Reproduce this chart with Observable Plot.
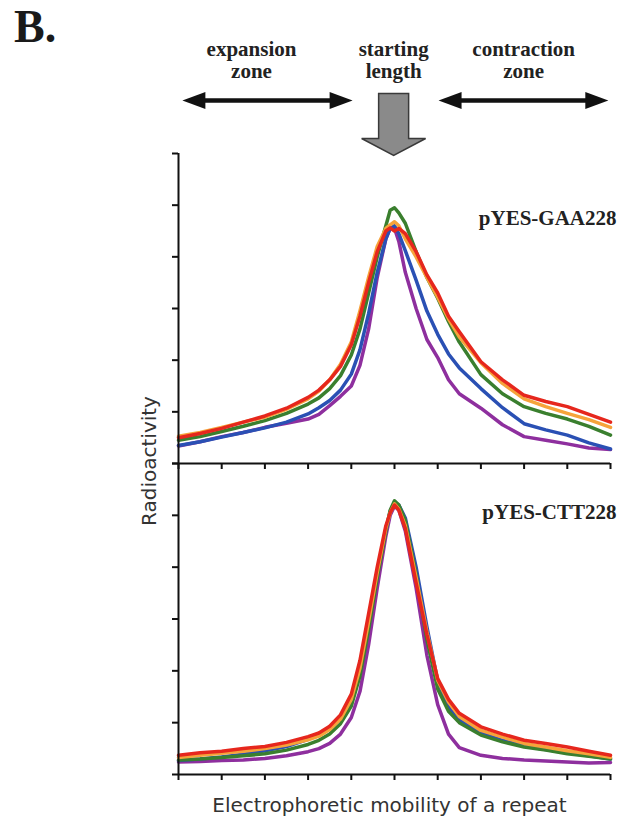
<!DOCTYPE html>
<html>
<head>
<meta charset="utf-8">
<script src="https://cdn.jsdelivr.net/npm/d3@7"></script>
<script src="https://cdn.jsdelivr.net/npm/@observablehq/plot@0.6"></script>
<style>
  body { margin: 0; background: #fff; }
  #fig { position: relative; width: 628px; height: 820px; overflow: hidden; background: #fff; }
  #fig svg { position: absolute; left: 0; overflow: visible; }
  #panel-letter { position: absolute; left: 14px; top: 2px; font-family: "Liberation Serif", serif; font-weight: bold; font-size: 46px; line-height: 50px; color: #1a1a1a; }
  #ylabel { position: absolute; left: 149px; top: 461px; transform: translate(-50%, -50%) rotate(-90deg); white-space: nowrap; font-family: "DejaVu Sans", sans-serif; font-size: 20px; color: #333; }
</style>
</head>
<body>
<div id="fig">
  <div id="panel-letter">B.</div>
  <div id="ylabel">Radioactivity</div>
</div>
<script>
// ---------------- data ----------------
const xs = [0,0.5,1,1.5,2,2.5,3,3.25,3.5,3.75,4,4.2,4.4,4.6,4.8,4.9,5,5.1,5.25,5.5,5.75,6,6.25,6.5,7,7.5,8,8.5,9,9.5,10];

const seriesNames = ["trace 1", "trace 2", "trace 3", "trace 4", "trace 5"];

// pYES-GAA228 panel
const gaaPurple = [0.34,0.42,0.52,0.60,0.70,0.78,0.86,0.95,1.12,1.30,1.50,1.90,2.60,3.60,4.35,4.55,4.55,4.30,3.70,3.00,2.40,2.05,1.62,1.35,1.07,0.75,0.52,0.45,0.38,0.30,0.27];
const gaaBlue   = [0.35,0.42,0.51,0.60,0.69,0.80,0.96,1.08,1.22,1.42,1.73,2.20,2.90,3.70,4.35,4.55,4.60,4.45,4.12,3.55,2.95,2.50,2.12,1.85,1.45,1.08,0.77,0.65,0.55,0.40,0.28];
const gaaGreen  = [0.45,0.52,0.62,0.72,0.83,0.97,1.15,1.27,1.45,1.70,2.10,2.60,3.30,4.00,4.60,4.90,4.95,4.85,4.65,4.10,3.60,3.20,2.75,2.35,1.72,1.35,1.10,0.97,0.86,0.72,0.55];
const gaaOrange = [0.53,0.60,0.70,0.80,0.90,1.05,1.25,1.40,1.62,1.92,2.35,2.95,3.60,4.20,4.55,4.62,4.68,4.60,4.35,4.00,3.60,3.22,2.80,2.45,1.95,1.55,1.25,1.10,0.97,0.85,0.70];
const gaaRed    = [0.50,0.58,0.68,0.80,0.92,1.07,1.28,1.42,1.62,1.88,2.30,2.85,3.50,4.10,4.50,4.56,4.50,4.55,4.45,4.10,3.65,3.30,2.85,2.55,1.97,1.62,1.32,1.20,1.10,0.95,0.80];

// pYES-CTT228 panel
const cttPurple = [0.24,0.25,0.27,0.28,0.31,0.36,0.44,0.50,0.60,0.78,1.10,1.60,2.50,3.60,4.60,5.00,5.18,5.10,4.70,3.60,2.30,1.35,0.78,0.52,0.37,0.31,0.28,0.26,0.24,0.22,0.23];
const cttBlue   = [0.27,0.30,0.34,0.39,0.46,0.54,0.68,0.77,0.90,1.10,1.40,1.95,2.85,3.85,4.72,5.08,5.25,5.20,4.95,4.00,2.85,1.80,1.30,1.05,0.80,0.66,0.55,0.48,0.42,0.36,0.30];
const cttGreen  = [0.28,0.30,0.33,0.36,0.40,0.47,0.58,0.66,0.78,0.98,1.32,1.90,2.80,3.80,4.70,5.10,5.28,5.20,4.90,3.85,2.60,1.65,1.22,1.00,0.76,0.63,0.53,0.47,0.40,0.35,0.30];
const cttOrange = [0.33,0.37,0.41,0.45,0.50,0.57,0.67,0.74,0.87,1.07,1.45,2.05,2.95,3.90,4.75,5.05,5.22,5.12,4.80,3.80,2.75,1.82,1.40,1.12,0.85,0.72,0.60,0.53,0.46,0.40,0.33];
const cttRed    = [0.37,0.42,0.45,0.50,0.54,0.62,0.73,0.80,0.93,1.15,1.55,2.20,3.10,4.00,4.80,5.05,5.20,5.10,4.75,3.70,2.70,1.85,1.45,1.18,0.92,0.78,0.66,0.60,0.53,0.45,0.37];

const panelLabels = ["pYES-GAA228", "pYES-CTT228"];
const zoneLabels = ["expansion\nzone", "starting\nlength", "contraction\nzone"];
const xTicks = [0,1,2,3,4,5,6,7,8,9,10];
const yTicks = [0,1,2,3,4,5,6];
const xLabel = "Electrophoretic mobility of a repeat";

// ---------------- styles ----------------
const seriesColors = ["#8e2f9e", "#2a50b4", "#3a7f2e", "#f6a33a", "#e6271d"];
const W = 628, ML = 178, MR = 18;
const serif = "Liberation Serif, Times New Roman, serif";

function toRows(arrays) {
  const rows = [];
  arrays.forEach((vals, k) => xs.forEach((x, i) => rows.push({x, y: vals[i], s: seriesNames[k]})));
  return rows;
}
const gaaRows = toRows([gaaPurple, gaaBlue, gaaGreen, gaaOrange, gaaRed]);
const cttRows = toRows([cttPurple, cttBlue, cttGreen, cttOrange, cttRed]);

const fig = document.getElementById("fig");
const common = {
  width: W, marginLeft: ML, marginRight: MR,
  x: {domain: [0, 10]},
  y: {domain: [0, 6]},
  color: {type: "ordinal", domain: seriesNames, range: seriesColors},
  style: {background: "transparent", overflow: "visible"}
};

function panel(rows, label, opts, extra) {
  return Plot.plot({
    ...common, ...opts,
    marks: [
      Plot.line(rows, {x: "x", y: "y", z: "s", stroke: "s", strokeWidth: 3.5, strokeLinejoin: "round"}),
      Plot.ruleX([0], {stroke: "#111", strokeWidth: 2}),
      Plot.ruleY([0], {stroke: "#111", strokeWidth: 2}),
      Plot.axisY(yTicks, {tickSize: 6, tickFormat: () => "", label: null, strokeWidth: 2, stroke: "#111"}),
      Plot.axisX(xTicks, {anchor: "bottom", tickSize: 6, tickFormat: () => "", label: null, strokeWidth: 2, stroke: "#111"}),
      Plot.text([label], {text: d => d, frameAnchor: "top-right", textAnchor: "end", lineAnchor: "bottom",
        dx: 6, dy: opts.labelDy, fontSize: 21, fontWeight: "bold", fontFamily: serif, fill: "#222"}),
      ...(extra || [])
    ]
  });
}

// bottom panel (CTT): frame 463..774
const svgB = panel(cttRows, panelLabels[1], {height: 362, marginTop: 5, marginBottom: 46, labelDy: 55}, [
  Plot.text([xLabel], {text: d => d, frameAnchor: "bottom", lineAnchor: "bottom", dy: 37, dx: -5,
    fontSize: 20, fontFamily: "DejaVu Sans, sans-serif", fill: "#333"})
]);
svgB.style.top = "458px";
fig.appendChild(svgB);

// top panel (GAA): frame 153..463
const svgA = panel(gaaRows, panelLabels[0], {height: 323, marginTop: 5, marginBottom: 8, labelDy: 71});
svgA.style.top = "148px";
fig.appendChild(svgA);

// header annotations
const arrowHead = {draw(ctx) { ctx.moveTo(0, 0); ctx.lineTo(-23, -8.5); ctx.lineTo(-23, 8.5); ctx.closePath(); }};
const blockArrow = {draw(ctx) {
  ctx.moveTo(-15, 0); ctx.lineTo(15, 0); ctx.lineTo(15, 45); ctx.lineTo(32, 45);
  ctx.lineTo(0, 62); ctx.lineTo(-32, 45); ctx.lineTo(-15, 45); ctx.closePath();
}};
const zones = zoneLabels.map((label, i) => ({label, x: [1.69, 4.98, 7.99][i]}));
const shafts = [{x1: 0.35, x2: 3.8}, {x1: 6.25, x2: 9.7}];
const heads = [{x: 0.09, r: 180}, {x: 4.03, r: 0}, {x: 6.02, r: 180}, {x: 9.95, r: 0}];

const svgH = Plot.plot({
  width: W, height: 160, marginLeft: ML, marginRight: MR, marginTop: 0, marginBottom: 0,
  x: {domain: [0, 10], axis: null},
  y: {domain: [160, 0], axis: null},
  style: {background: "transparent", overflow: "visible"},
  marks: [
    Plot.text(zones, {x: "x", y: () => 77, text: d => d.label.split("\n")[1], lineAnchor: "bottom",
      fontSize: 21, fontWeight: "bold", fontFamily: serif, fill: "#222"}),
    Plot.text(zones, {x: "x", y: () => 55, text: d => d.label.split("\n")[0], lineAnchor: "bottom",
      fontSize: 21, fontWeight: "bold", fontFamily: serif, fill: "#222"}),
    Plot.link(shafts, {x1: "x1", x2: "x2", y1: () => 100, y2: () => 100, stroke: "#111", strokeWidth: 4.5}),
    Plot.dot(heads, {x: "x", y: () => 100, rotate: "r", symbol: arrowHead, fill: "#111", stroke: "none", r: 10}),
    Plot.dot([5], {x: d => d - 0.02, y: () => 93, symbol: blockArrow, fill: "#8a8a8a", stroke: "#3a3a3a", strokeWidth: 1.5, r: 10})
  ]
});
svgH.style.top = "0px";
fig.appendChild(svgH);
</script>
</body>
</html>
